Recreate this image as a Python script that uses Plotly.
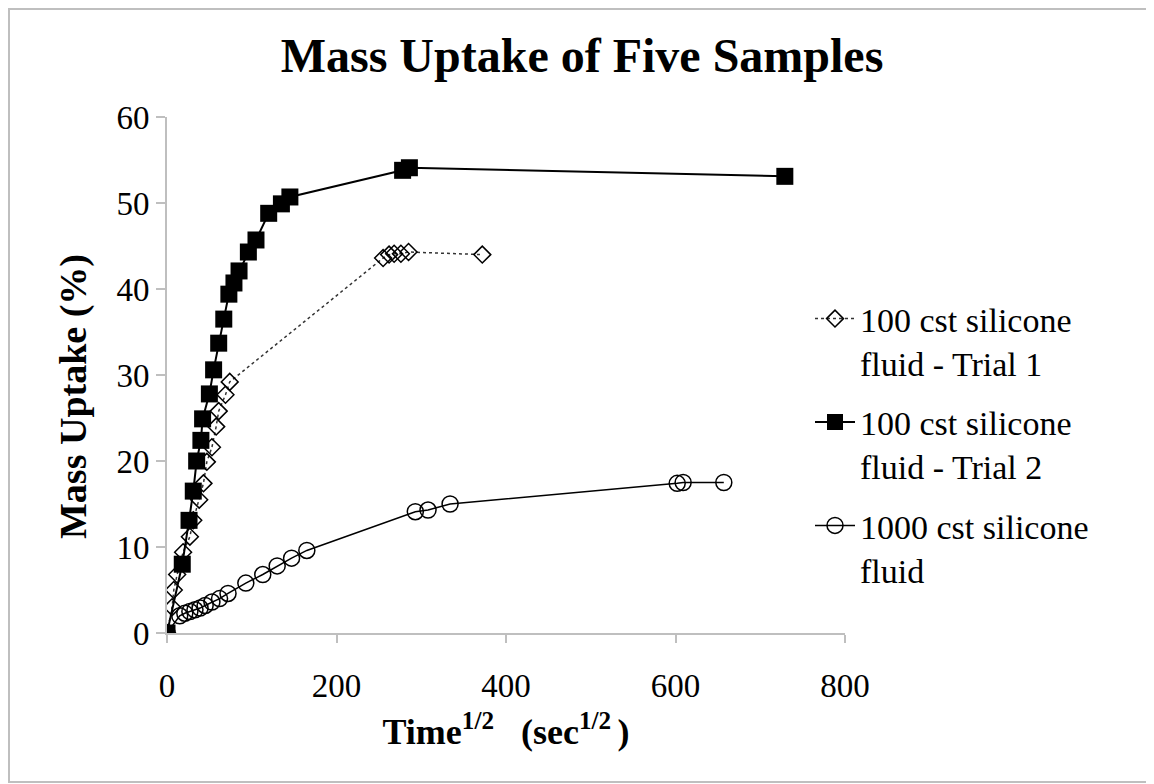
import plotly.graph_objects as go

# ---- data ----
t1_x = [0, 6, 8, 12, 19, 27, 31, 38, 43, 47, 53, 58, 61, 69, 74, 255, 262, 268, 276, 285, 372]
t1_y = [0, 3.0, 5.0, 6.8, 9.4, 11.2, 13.1, 15.5, 17.4, 19.9, 21.6, 24.0, 25.8, 27.7, 29.2, 43.6, 44.0, 44.1, 44.1, 44.3, 44.0]

t2_x = [0, 18, 26, 31, 35, 40, 42, 50, 55, 61, 67, 73, 79, 85, 96, 105, 120, 135, 145, 278, 286, 729]
t2_y = [0, 8.0, 13.1, 16.5, 20.0, 22.4, 24.9, 27.8, 30.6, 33.7, 36.5, 39.4, 40.7, 42.1, 44.3, 45.7, 48.8, 49.9, 50.7, 53.8, 54.1, 53.1]

c1000_x = [0, 15, 21, 27, 33, 39, 45, 53, 62, 72, 93, 113, 130, 147, 165, 293, 308, 334, 602, 609, 657]
c1000_y = [0, 2.0, 2.3, 2.5, 2.7, 2.9, 3.2, 3.6, 4.0, 4.6, 5.8, 6.8, 7.8, 8.7, 9.6, 14.1, 14.3, 15.0, 17.4, 17.5, 17.5]

names = ["100 cst silicone<br>fluid - Trial 1",
         "100 cst silicone<br>fluid - Trial 2",
         "1000 cst silicone<br>fluid"]

x_ticks = [0, 200, 400, 600, 800]
y_ticks = [0, 10, 20, 30, 40, 50, 60]

FONT = "Liberation Serif, Times New Roman, serif"

fig = go.Figure()
fig.add_trace(go.Scatter(
    x=t1_x, y=t1_y, name=names[0], mode="lines+markers", legendgroup="a",
    line=dict(color="#333333", width=1.5, dash="dot"),
    marker=dict(symbol="diamond-open", size=13, color="black", line=dict(width=1.5)),
))
fig.add_trace(go.Scatter(
    x=t2_x, y=t2_y, name=names[1], mode="lines+markers", legendgroup="b",
    line=dict(color="black", width=2),
    marker=dict(symbol="square", size=17, color="black"),
))
fig.add_trace(go.Scatter(
    x=c1000_x, y=c1000_y, name=names[2], mode="lines+markers", legendgroup="c",
    line=dict(color="black", width=1.5),
    marker=dict(symbol="circle-open", size=16, color="black", line=dict(width=1.5)),
))

# page offset of the figure inside the html body
OFF = 8
W, H = 1154 - OFF, 784 - OFF
# plot area in page pixels
PL, PR, PT, PB = 167, 845, 117, 633
L, R, T, B = PL - OFF, (W + OFF) - PR, PT - OFF, (H + OFF) - PB
pw, ph = PR - PL, PB - PT

def px(x):
    return (x - PL) / pw

def py(y):
    return (PB - y) / ph

fig.update_layout(
    width=W, height=H,
    margin=dict(l=L, r=R, t=T, b=B, autoexpand=False),
    paper_bgcolor="white", plot_bgcolor="white",
    font=dict(family=FONT, color="black", size=32),
    title=dict(text="<b>Mass Uptake of Five Samples</b>", x=(582 - OFF) / W, xref="container",
               xanchor="center", y=1 - (55 - OFF) / H, yref="container", yanchor="middle",
               font=dict(size=48, family=FONT)),
    xaxis=dict(range=[0, 800], tickvals=x_ticks, ticks="outside", ticklen=8,
               tickcolor="#bfbfbf", tickwidth=2, showline=True, linecolor="#bfbfbf",
               linewidth=2, showgrid=False, zeroline=False,
               tickfont=dict(size=33), ticklabelstandoff=14,
               title=dict(text="<b>Time<sup>1/2</sup>\u00a0\u00a0\u00a0(sec<sup>1/2\u00a0</sup>)</b>",
                          font=dict(size=36), standoff=16)),
    yaxis=dict(range=[0, 60], tickvals=y_ticks, ticks="outside", ticklen=9,
               tickcolor="#bfbfbf", tickwidth=2, showline=True, linecolor="#bfbfbf",
               linewidth=2, showgrid=False, zeroline=False,
               tickfont=dict(size=33)),
    legend=dict(x=px(810), xanchor="left", y=py(290), yanchor="top",
                font=dict(size=34), valign="top", itemwidth=40,
                traceorder="grouped", tracegroupgap=12,
                bgcolor="rgba(0,0,0,0)"),
    showlegend=True,
    annotations=[dict(text="<b>Mass Uptake (%)</b>", textangle=-90, showarrow=False,
                      xref="paper", yref="paper", x=px(73), y=py(396),
                      xanchor="center", yanchor="middle", font=dict(size=38))],
    shapes=[dict(type="rect", xref="paper", yref="paper",
                 x0=px(OFF + 1), x1=px(1152), y0=py(782), y1=py(OFF + 1),
                 line=dict(color="#bfbfbf", width=2), fillcolor="rgba(0,0,0,0)",
                 layer="below")],
)

fig.write_html("out.html")
